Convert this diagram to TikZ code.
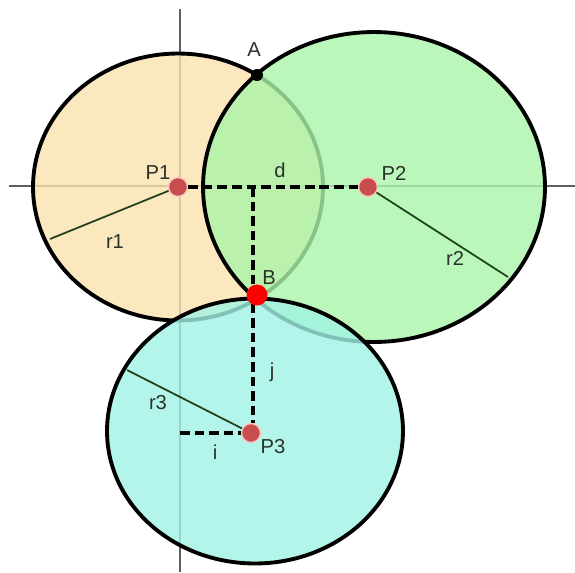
\documentclass[tikz,border=0pt]{standalone}
\usepackage{fontspec}
\setmainfont{Liberation Sans}
\definecolor{orange1}{RGB}{251, 226, 174}
\definecolor{green1}{RGB}{170, 245, 170}
\definecolor{cyan1}{RGB}{161, 243, 230}
\definecolor{dotred}{RGB}{200, 78, 78}
\definecolor{halo}{RGB}{250, 200, 195}
\definecolor{axisgray}{RGB}{95, 95, 95}
\definecolor{radgreen}{RGB}{30, 65, 30}
\definecolor{labelgray}{RGB}{40, 50, 40}
\usetikzlibrary{positioning, calc}

\begin{document}
\begin{tikzpicture}[x=0.02cm, y=-0.02cm,
    axis/.style={draw=axisgray, line width=0.8pt},
    disc/.style={draw=black, line width=2.2pt, fill opacity=0.8},
    radius line/.style={draw=radgreen, line width=1pt},
    dist/.style={draw=black, line width=1.9pt, dash pattern=on 5.5pt off 2.8pt},
    pdot/.style={circle, fill=dotred, draw=halo, line width=0.8pt, minimum size=0.38cm, inner sep=0pt},
    lbl/.style={text=labelgray, font=\fontsize{11.5}{13}\selectfont, inner sep=1pt}]
  \useasboundingbox (0,0) rectangle (575,572);

  % axes
  \coordinate (yTop) at (180,9);
  \coordinate (yBot) at (180,572);
  \coordinate (xLeft) at (9,186);
  \coordinate (xRight) at (575,186);
  \draw[axis] (yTop) -- (yBot);
  \draw[axis] (xLeft) -- (xRight);

  % circles
  \coordinate (C1) at (178,187);
  \coordinate (C2) at (374,187);
  \coordinate (C3) at (255,431);
  \draw[disc, fill=orange1] (C1) ellipse [x radius=2.9cm, y radius=2.67cm];
  \draw[disc, fill=green1] (C2) ellipse [x radius=3.42cm, y radius=3.1cm];
  \draw[disc, fill=cyan1] (C3) ellipse [x radius=2.96cm, y radius=2.65cm];

  % centres and intersections
  \node[pdot] (P1) at (178,187) {};
  \node[pdot] (P2) at (368,187) {};
  \node[pdot] (P3) at (251,433) {};

  % radii
  \coordinate (r1end) at (50,239);
  \coordinate (r2end) at (508,277);
  \coordinate (r3end) at (127,370);
  \draw[radius line] (P1) -- (r1end);
  \draw[radius line] (P2) -- (r2end);
  \draw[radius line] (P3) -- (r3end);

  % distances
  \coordinate (dfoot) at (253,187);
  \coordinate (ifoot) at (180,433);
  \draw[dist] (P1) -- (P2);
  \draw[dist] (dfoot) -- (dfoot |- P3.north);
  \draw[dist] (ifoot) -- (P3);

  \node[circle, fill=black, minimum size=0.24cm, inner sep=0pt] (A) at (257,75) {};
  \node[circle, fill=red, minimum size=0.42cm, inner sep=0pt] (B) at (257,295) {};

  % labels
  \node[lbl] (P1lbl) at (158,173) {P1};
  \node[lbl] (P2lbl) at (394,173) {P2};
  \node[lbl] (P3lbl) at (273,447) {P3};
  \node[lbl] (Albl) at (254,50) {A};
  \node[lbl] (Blbl) at (269,278) {B};
  \node[lbl] (dlbl) at (280,170) {d};
  \node[lbl] (jlbl) at (272,372) {j};
  \node[lbl] (ilbl) at (215,452) {i};
  \node[lbl] (r1lbl) at (115,242) {r1};
  \node[lbl] (r2lbl) at (455,258) {r2};
  \node[lbl] (r3lbl) at (158,403) {r3};
\end{tikzpicture}
\end{document}
